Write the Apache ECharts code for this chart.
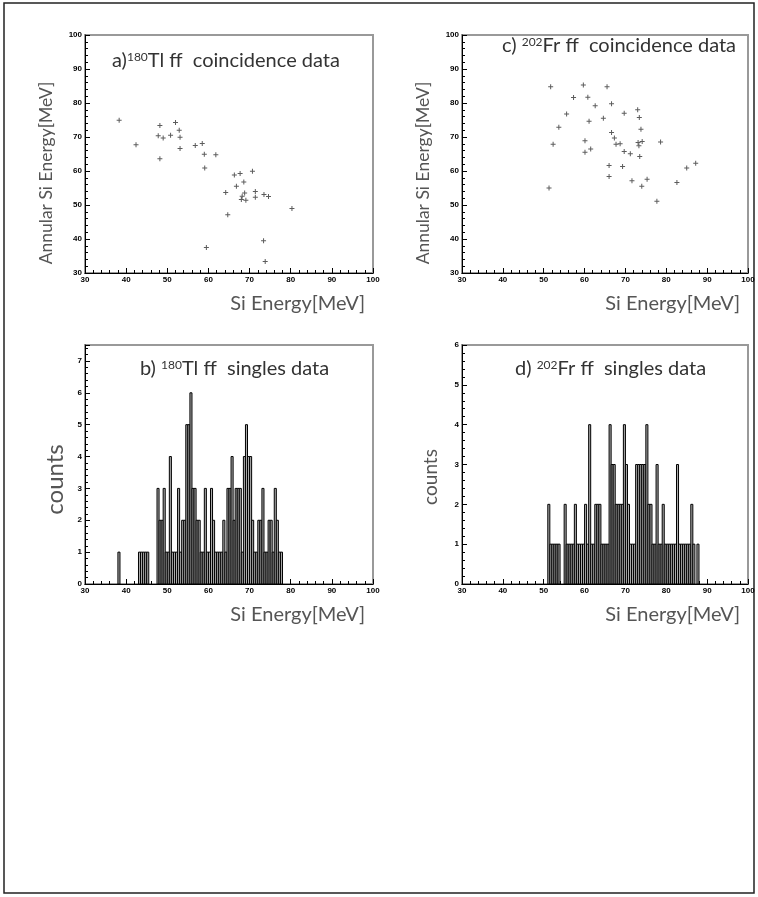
<!DOCTYPE html>
<html><head><meta charset="utf-8">
<script src="https://cdn.jsdelivr.net/npm/echarts@6/dist/echarts.min.js"></script>
<style>html,body{margin:0;padding:0;background:#fff}#c{width:758px;height:897px}</style>
</head><body><div id="c"></div>
<script>
// ---- data ----
// a) 180Tl coincidence: Si energy vs annular Si energy (MeV)
const tlCoinSi = [38.3, 42.4, 48.2, 47.8, 49.0, 48.2, 50.8, 52.0, 52.9, 53.1, 53.1, 56.8, 58.5, 59.0, 59.1, 61.8, 59.5, 64.2, 64.7, 66.3, 67.7, 66.8, 68.6, 68.8, 68.0, 69.1, 70.7, 71.4, 71.4, 73.5, 74.6, 73.4, 73.8, 80.3, 68.2];
const tlCoinAnn = [74.9, 67.7, 73.4, 70.4, 69.7, 63.6, 70.5, 74.3, 72.0, 69.9, 66.6, 67.5, 68.1, 64.9, 60.9, 64.8, 37.5, 53.7, 47.1, 58.8, 59.3, 55.5, 56.8, 53.5, 51.6, 51.4, 59.9, 54.0, 52.3, 53.1, 52.5, 39.5, 33.4, 49.0, 52.6];
// c) 202Fr coincidence
const frCoinSi = [51.7, 52.3, 51.3, 53.7, 55.6, 57.3, 59.7, 60.8, 62.6, 61.1, 60.1, 60.1, 61.5, 64.6, 65.5, 66.6, 66.6, 67.3, 67.7, 68.7, 66.0, 66.0, 69.7, 69.7, 71.2, 69.3, 71.6, 73.0, 73.4, 73.8, 73.1, 73.3, 74.1, 73.5, 74.0, 75.3, 77.7, 78.6, 82.6, 85.0, 87.2];
const frCoinAnn = [84.8, 67.9, 55.0, 72.9, 76.8, 81.6, 85.3, 81.7, 79.2, 74.6, 68.9, 65.5, 66.5, 75.5, 84.8, 79.8, 71.3, 69.7, 67.9, 68.0, 61.6, 58.4, 77.0, 65.7, 65.1, 61.3, 57.1, 78.0, 75.7, 72.3, 68.4, 67.4, 68.7, 64.3, 55.5, 57.6, 51.1, 68.5, 56.6, 60.9, 62.3];
// b) 180Tl singles histogram: [bin low edge (MeV), counts], bin width 0.5 MeV
const binWidth = 0.5;
const tlSingles = [[38.0,1],[43.0,1],[43.5,1],[44.0,1],[44.5,1],[45.0,1],
 [47.5,3],[48.0,2],[48.5,2],[49.0,3],[49.5,1],[50.0,1],[50.5,4],[51.0,1],[51.5,1],[52.0,1],[52.5,3],[53.0,1],[53.5,2],[54.0,2],
 [54.5,5],[55.0,5],[55.5,6],[56.0,3],[56.5,3],[57.0,2],[57.5,2],[58.0,1],[58.5,1],[59.0,3],[59.5,1],[60.0,1],[60.5,3],[61.0,2],
 [61.5,1],[62.0,1],[62.5,1],[63.0,1],[63.5,2],[64.0,1],[64.5,3],[65.0,3],[65.5,4],[66.0,2],[66.5,3],[67.0,3],[67.5,3],[68.0,1],
 [68.5,4],[69.0,5],[69.5,4],[70.0,4],[70.5,2],[71.0,1],[71.5,1],[72.0,2],[72.5,2],[73.0,3],[73.5,1],[74.0,1],[74.5,2],[75.0,2],
 [75.5,1],[76.0,3],[76.5,2],[77.0,1],[77.5,1]];
// d) 202Fr singles histogram
const frSingles = [[51.0,2],[51.5,1],[52.0,1],[52.5,1],[53.0,1],[53.5,1],
 [55.0,2],[55.5,1],[56.0,1],[56.5,1],[57.0,1],[57.5,2],[58.0,1],[58.5,1],[59.0,1],[59.5,1],[60.0,2],[60.5,1],[61.0,4],[61.5,1],
 [62.0,1],[62.5,2],[63.0,2],[63.5,2],[64.0,1],[64.5,1],[65.0,1],[65.5,1],[66.0,4],[66.5,3],[67.0,3],[67.5,2],[68.0,2],[68.5,2],
 [69.0,2],[69.5,4],[70.0,3],[70.5,2],[71.0,1],[71.5,1],[72.0,1],[72.5,3],[73.0,3],[73.5,3],[74.0,3],[74.5,3],[75.0,4],[75.5,2],
 [76.0,2],[76.5,1],[77.0,1],[77.5,3],[78.0,1],[78.5,1],[79.0,2],[79.5,1],[80.0,1],[80.5,1],[81.0,1],[81.5,1],[82.0,1],[82.5,3],
 [83.0,1],[83.5,1],[84.0,1],[84.5,1],[85.0,1],[85.5,1],[86.0,2],[86.5,1],[87.5,1]];
// axis ranges / ticks
const energyRange = [30, 100, 10];
const annularRange = [30, 100, 10];
const tlCountRange = [0, 7.5, 1];
const frCountRange = [0, 6, 1];

// ---- chart ----
const FONT = 'Lato';
const grids = [
  {left: 85, top: 35, width: 288, height: 238},
  {left: 462, top: 35, width: 286, height: 238},
  {left: 85, top: 345, width: 288, height: 239},
  {left: 462, top: 345, width: 286, height: 239}
];
function axisCommon(r) {
  return {
    type: 'value', min: r[0], max: r[1], interval: r[2],
    axisLine: {show: true, onZero: false, lineStyle: {color: '#000', width: 1}},
    axisTick: {show: true, inside: true, length: 5, lineStyle: {color: '#000', width: 1}},
    minorTick: {show: true, splitNumber: 5, length: 3, lineStyle: {color: '#000', width: 1}},
    axisLabel: {fontSize: 8, fontWeight: 'bold', color: '#000', margin: 3, fontFamily: 'Liberation Sans', showMaxLabel: r[1] % r[2] === 0},
    splitLine: {show: false}
  };
}
function xAx(i) {
  return Object.assign(axisCommon(energyRange), {
    gridIndex: i, name: 'Si Energy[MeV]', nameLocation: 'end', nameGap: -8,
    nameTextStyle: {fontSize: 20, color: '#555', fontFamily: FONT, align: 'right', verticalAlign: 'top', padding: [21, 0, 0, 0]}
  });
}
function yAx(i, r, name, size, gap, shift) {
  return Object.assign(axisCommon(r), {
    gridIndex: i, name: name, nameLocation: 'middle', nameGap: gap,
    nameTextStyle: {fontSize: size, color: '#555', fontFamily: FONT, padding: [0, shift, 0, 0]}
  });
}
const plus = 'path://M2,0H3V2H5V3H3V5H2V3H0V2H2Z';
function histRender(params, api) {
  const x0 = api.value(0), c = api.value(1);
  const p0 = api.coord([x0, 0]);
  const p1 = api.coord([x0 + binWidth, c]);
  return {type: 'rect', shape: {x: p0[0], y: p1[1], width: p1[0] - p0[0], height: p0[1] - p1[1]},
    style: {fill: '#aaa', stroke: '#000', lineWidth: 1}};
}
function titleRich() {
  return {t: {fontSize: 20, color: '#333', fontFamily: FONT, fontWeight: 'normal'},
          s: {fontSize: 12, color: '#333', fontFamily: FONT, fontWeight: 'normal', verticalAlign: 'top'}};
}
const option = {
  backgroundColor: '#fff',
  animation: false,
  grid: grids.map(g => Object.assign({show: true, borderColor: '#999', borderWidth: 2, containLabel: false}, g)),
  title: [
    {left: 112, top: 51, padding: 0, text: '{t|a)}{s|180}{t|Tl ff  coincidence data}', textStyle: {fontWeight: 'normal', rich: titleRich()}},
    {left: 502, top: 36, padding: 0, text: '{t|c) }{s|202}{t|Fr ff  coincidence data}', textStyle: {fontWeight: 'normal', rich: titleRich()}},
    {left: 140, top: 359, padding: 0, text: '{t|b) }{s|180}{t|Tl ff  singles data}', textStyle: {fontWeight: 'normal', rich: titleRich()}},
    {left: 515, top: 359, padding: 0, text: '{t|d) }{s|202}{t|Fr ff  singles data}', textStyle: {fontWeight: 'normal', rich: titleRich()}}
  ],
  xAxis: [xAx(0), xAx(1), xAx(2), xAx(3)],
  yAxis: [
    yAx(0, annularRange, 'Annular Si Energy[MeV]', 17.5, 30, 38),
    yAx(1, annularRange, 'Annular Si Energy[MeV]', 17.5, 30, 38),
    yAx(2, tlCountRange, 'counts', 24, 18, 30),
    yAx(3, frCountRange, 'counts', 19, 22, 25)
  ],
  series: [
    {type: 'scatter', xAxisIndex: 0, yAxisIndex: 0, symbol: plus, symbolSize: 5, itemStyle: {color: '#333'},
      data: tlCoinSi.map((v, i) => [v, tlCoinAnn[i]])},
    {type: 'scatter', xAxisIndex: 1, yAxisIndex: 1, symbol: plus, symbolSize: 5, itemStyle: {color: '#333'},
      data: frCoinSi.map((v, i) => [v, frCoinAnn[i]])},
    {type: 'custom', xAxisIndex: 2, yAxisIndex: 2, renderItem: histRender, encode: {x: 0, y: 1}, data: tlSingles, clip: true},
    {type: 'custom', xAxisIndex: 3, yAxisIndex: 3, renderItem: histRender, encode: {x: 0, y: 1}, data: frSingles, clip: true}
  ],
  graphic: [
    {type: 'rect', shape: {x: 4, y: 3, width: 750, height: 890}, style: {fill: 'none', stroke: '#222', lineWidth: 1.5}, silent: true}
  ]
};
const chart = echarts.init(document.getElementById('c'), null, {renderer: 'canvas'});
chart.setOption(option);
</script></body></html>
